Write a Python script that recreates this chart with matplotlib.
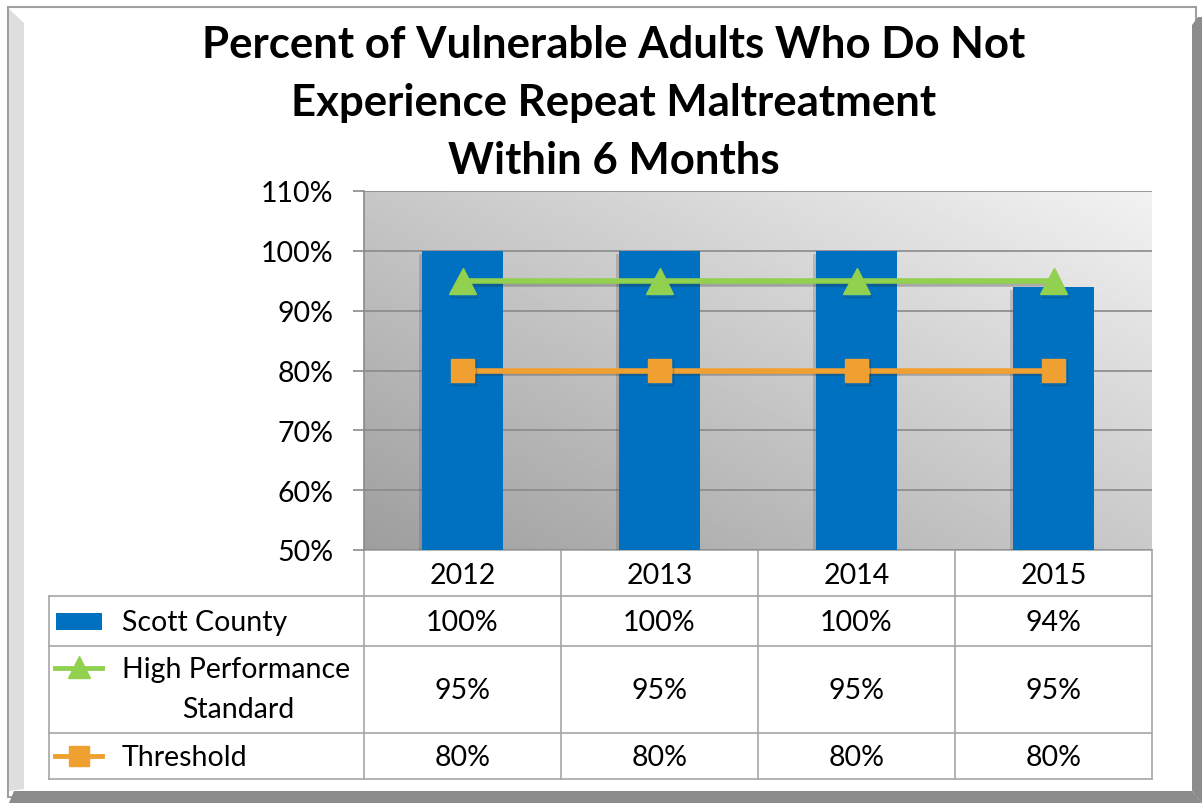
import numpy as np
import matplotlib
matplotlib.use("Agg")
import matplotlib.pyplot as plt
import matplotlib.patheffects as pe
from matplotlib.patches import Rectangle, Polygon

plt.rcParams["font.family"] = ["Lato", "DejaVu Sans"]

years = ["2012", "2013", "2014", "2015"]
scott_county = [100, 100, 100, 94]
high_perf = [95, 95, 95, 95]
threshold = [80, 80, 80, 80]
title_lines = ["Percent of Vulnerable Adults Who Do Not",
               "Experience Repeat Maltreatment",
               "Within 6 Months"]
yticks = [50, 60, 70, 80, 90, 100, 110]

BLUE = "#0070c0"
GREEN = "#92d050"
ORANGE = "#f0a030"
FS = 20.5

W, H = 1202, 804
fig = plt.figure(figsize=(W / 100, H / 100), dpi=100)

# background axes in pixel coordinates (frame + table)
bg = fig.add_axes([0, 0, 1, 1])
bg.set_xlim(0, W)
bg.set_ylim(H, 0)
bg.axis("off")

# outer frame
bg.add_patch(Rectangle((8, 8), 1188, 790, fill=False, ec="#a0a0a0", lw=1.5))
bg.add_patch(Polygon([(9, 10), (24, 24), (24, 790), (9, 792)], closed=True, fc="#dedede", ec="none"))
bg.add_patch(Polygon([(9, 804), (14, 792), (1192, 792), (1202, 804)], closed=True, fc="#8c8c8c", ec="none"))
bg.add_patch(Polygon([(1192, 792), (1192, 26), (1198, 18), (1202, 18), (1202, 804)], closed=True, fc="#8c8c8c", ec="none"))

# title, one line at a time
for k, line in enumerate(title_lines):
    bg.text(614, 58 + k * 58, line, ha="center", va="baseline", fontsize=31.5, fontweight="bold")

# plot area
x0, x1, y_top, y_bot = 364, 1152, 192, 551
ax = fig.add_axes([x0 / W, 1 - y_bot / H, (x1 - x0) / W, (y_bot - y_top) / H])
ax.set_xlim(-0.5, len(years) - 0.5)
ax.set_ylim(50, 110)

# gradient background
gx, gy = np.meshgrid(np.linspace(0, 1, 200), np.linspace(0, 1, 200))
grad = 0.62 + 0.17 * gx + 0.16 * gy
grad = np.clip(grad, 0, 0.96)
ax.imshow(grad, cmap="gray", vmin=0, vmax=1, origin="lower", extent=(-0.5, len(years) - 0.5, 50, 110),
          aspect="auto", zorder=0, interpolation="bilinear")

for t in yticks:
    ax.axhline(t, color="#8a8a8a", lw=1.2, zorder=1)

xs = np.arange(len(years))
bars = ax.bar(xs, scott_county, width=0.41, color=BLUE, zorder=2, bottom=0)
for b in bars:
    b.set_path_effects([pe.SimplePatchShadow(offset=(-2, -2), shadow_rgbFace="#555555", alpha=0.25), pe.Normal()])

shadow = [pe.SimpleLineShadow(offset=(1, -2), shadow_color="#333333", alpha=0.3), pe.Normal()]
ax.plot(xs, high_perf, color=GREEN, lw=4, marker="^", ms=19, mfc=GREEN, mec=GREEN, zorder=3,
        path_effects=shadow)
ax.plot(xs, threshold, color=ORANGE, lw=4, marker="s", ms=17, mfc=ORANGE, mec=ORANGE, zorder=3,
        path_effects=shadow)

ax.set_yticks(yticks)
ax.set_yticklabels([f"{t}%" for t in yticks], fontsize=FS)
ax.set_xticks([])
ax.tick_params(axis="y", length=8, color="#8a8a8a", width=1.2, pad=14)
for s in ["top", "right", "bottom"]:
    ax.spines[s].set_visible(False)
ax.spines["left"].set_color("#8a8a8a")
ax.spines["left"].set_linewidth(1.2)

# data table
col_w = (x1 - x0) / len(years)
row_edges = [551, 597, 647, 734, 780]
lc = "#a6a6a6"
for i in range(len(years) + 1):
    bg.plot([x0 + i * col_w] * 2, [row_edges[0], row_edges[-1]], color=lc, lw=1.2)
bg.plot([49, 49], [row_edges[1], row_edges[-1]], color=lc, lw=1.2)
for j, r in enumerate(row_edges):
    left = x0 if j == 0 else 49
    bg.plot([left, x1], [r, r], color=lc, lw=1.2)

for i, yr in enumerate(years):
    bg.text(x0 + (i + 0.5) * col_w, (row_edges[0] + row_edges[1]) / 2 + 2, yr,
            ha="center", va="center", fontsize=FS)

rows = [scott_county, high_perf, threshold]
for j, vals in enumerate(rows):
    yc = (row_edges[j + 1] + row_edges[j + 2]) / 2
    for i, v in enumerate(vals):
        bg.text(x0 + (i + 0.5) * col_w, yc + 1, f"{v}%", ha="center", va="center", fontsize=FS)

# legend keys in the table
ky = [(row_edges[1] + row_edges[2]) / 2, 669, (row_edges[3] + row_edges[4]) / 2]
bg.add_patch(Rectangle((56, ky[0] - 8), 46, 17, fc=BLUE, ec="none"))
bg.plot([55, 102], [ky[1], ky[1]], color=GREEN, lw=3.5)
bg.plot([78.5], [ky[1] - 1], marker="^", ms=16, color=GREEN)
bg.plot([55, 102], [ky[2], ky[2]], color=ORANGE, lw=3.5)
bg.plot([78.5], [ky[2]], marker="s", ms=15, color=ORANGE)

bg.text(122, ky[0] + 1, "Scott County", ha="left", va="center", fontsize=FS)
bg.text(122, ky[1] + 1, "High Performance", ha="left", va="center", fontsize=FS)
bg.text(238, 710, "Standard", ha="center", va="center", fontsize=FS)
bg.text(122, ky[2] + 1, "Threshold", ha="left", va="center", fontsize=FS)

fig.savefig("out.png", dpi=100)
